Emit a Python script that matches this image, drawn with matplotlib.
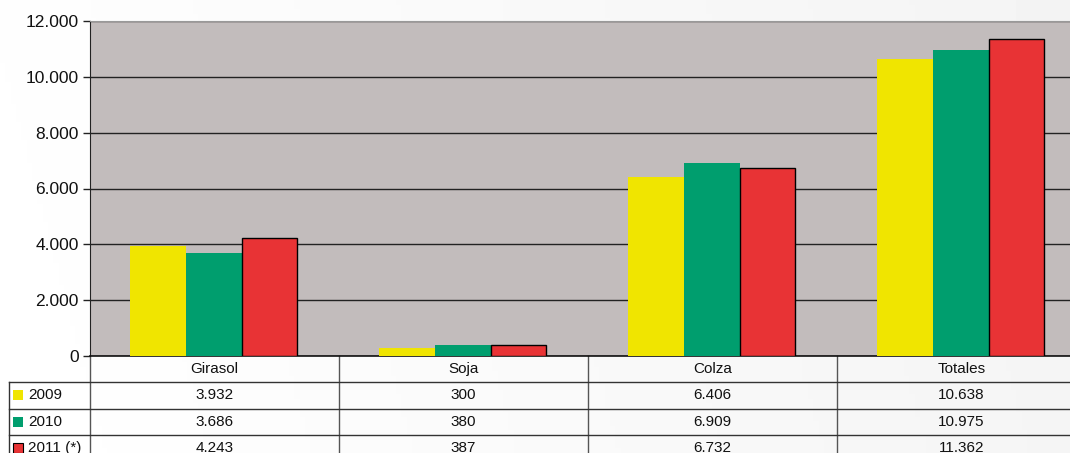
import matplotlib
matplotlib.use("Agg")
import matplotlib.pyplot as plt
import numpy as np
from matplotlib.patches import Rectangle
from matplotlib.lines import Line2D

categories = ["Girasol", "Soja", "Colza", "Totales"]
series_names = ["2009", "2010", "2011 (*)"]
v2009 = [3932, 300, 6406, 10638]
v2010 = [3686, 380, 6909, 10975]
v2011 = [4243, 387, 6732, 11362]
cell_text = [["3.932", "300", "6.406", "10.638"],
             ["3.686", "380", "6.909", "10.975"],
             ["4.243", "387", "6.732", "11.362"]]
yticks = [0, 2000, 4000, 6000, 8000, 10000, 12000]
ytick_labels = ["0", "2.000", "4.000", "6.000", "8.000", "10.000", "12.000"]

colors = ["#F0E500", "#009E6E", "#E83335"]
edges = ["none", "none", "#000000"]

plt.rcParams['font.family'] = ['Liberation Sans', 'DejaVu Sans']

W, H = 1070, 453
fig = plt.figure(figsize=(W / 100, H / 100), dpi=100)

# subtle background gradient
bg = fig.add_axes([0, 0, 1, 1], zorder=-10)
gx = np.linspace(0, 1, 200)
gy = np.linspace(0, 1, 100)
GX, GY = np.meshgrid(gx, gy)
grad = 1.0 - 0.045 * np.clip(GX * 0.9 + (1 - GY) * 0.1, 0, 1)
bg.imshow(grad, cmap="gray", vmin=0, vmax=1, aspect="auto", extent=[0, 1, 0, 1])
bg.axis("off")

left_px, right_px = 90, 1086
top_px, bot_px = 21, 356
ax = fig.add_axes([left_px / W, 1 - bot_px / H, (right_px - left_px) / W, (bot_px - top_px) / H])
ax.set_facecolor("#C2BCBC")

x = np.arange(len(categories))
w = 0.224
for i, (vals, c, e) in enumerate(zip([v2009, v2010, v2011], colors, edges)):
    ax.bar(x + (i - 1) * w - 0.003, vals, width=w, color=c, edgecolor=e,
           linewidth=1.0, zorder=3)

ax.set_xlim(-0.5, len(categories) - 0.5)
ax.set_ylim(0, 12000)
ax.set_yticks(yticks)
ax.set_yticklabels(ytick_labels, fontsize=12.5, color="#111111")
ax.set_xticks([])
ax.yaxis.grid(True, color="#222222", linewidth=1.0, zorder=1)
ax.set_axisbelow(True)
ax.tick_params(axis="y", length=5, width=1, color="#222222", pad=3)
ax.spines["left"].set_color("#222222")
ax.spines["top"].set_color("#999999")
ax.spines["right"].set_visible(False)
ax.spines["bottom"].set_color("#111111")
ax.spines["bottom"].set_linewidth(1.2)

# table below the axes
trans = ax.get_xaxis_transform()
row_h = 26.3 / (bot_px - top_px)
leg_left = -0.5 - 81 / 249.0
lc = "#333333"
n = len(categories)
# vertical lines
for b in list(np.arange(n + 1) - 0.5):
    ax.add_line(Line2D([b, b], [0, -4 * row_h], transform=trans, color="#555555",
                       lw=1.0, clip_on=False))
ax.add_line(Line2D([leg_left, leg_left], [-row_h, -4 * row_h], transform=trans,
                   color=lc, lw=1.0, clip_on=False))
# horizontal lines
for r in range(1, 4):
    ax.add_line(Line2D([leg_left, n - 0.5], [-r * row_h, -r * row_h], transform=trans,
                       color=lc, lw=1.0, clip_on=False))
# header
for i, cat in enumerate(categories):
    ax.text(i, -0.5 * row_h, cat, transform=trans, ha="center", va="center",
            fontsize=11, color="#111111")
# rows
sq_w = 10 / 249.0
sq_h = 10 / (bot_px - top_px)
for r, name in enumerate(series_names):
    yc = -(r + 1.5) * row_h
    ax.add_patch(Rectangle((leg_left + 4 / 249.0, yc - sq_h / 2), sq_w, sq_h,
                           transform=trans, facecolor=colors[r],
                           edgecolor=("#000000" if edges[r] != "none" else "none"),
                           lw=0.8, clip_on=False))
    ax.text(leg_left + 19 / 249.0, yc, name, transform=trans, ha="left", va="center",
            fontsize=11, color="#111111")
    for i in range(n):
        ax.text(i, yc, cell_text[r][i], transform=trans, ha="center", va="center",
                fontsize=11, color="#111111")

fig.savefig("out.png", dpi=100)
